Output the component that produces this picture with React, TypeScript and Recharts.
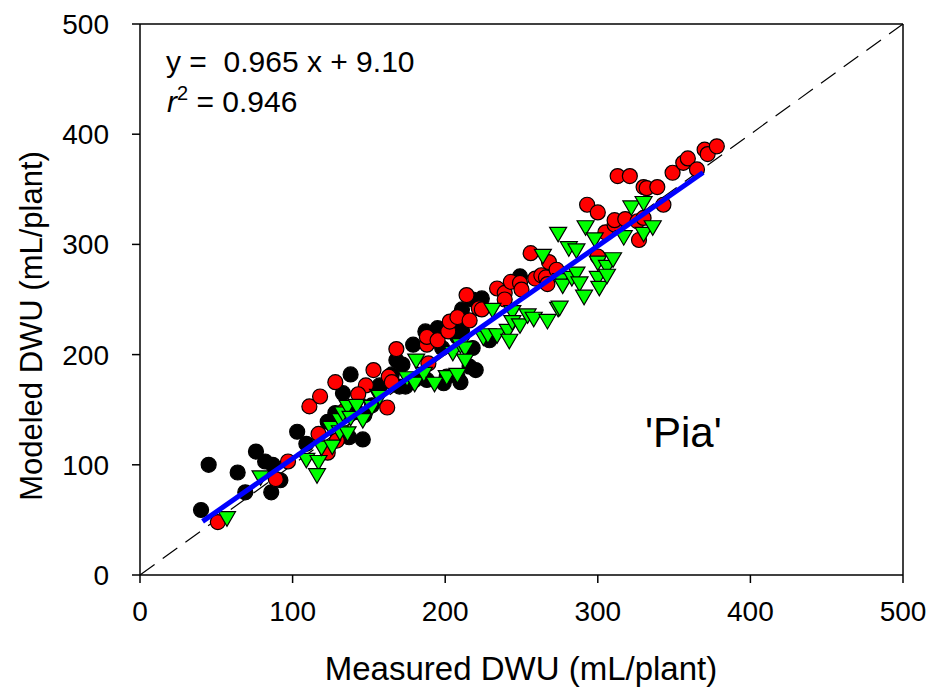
import React from 'react';
import { ScatterChart, Scatter, XAxis, YAxis, ReferenceLine } from 'recharts';

const axisTicks = [0, 100, 200, 300, 400, 500];

const blackPts = [
  [40,59],[45,100],[64,93],[69,75],[76,112],[82,103],[87,100],[86,75],[92,86],[103,130],[109,119],[123,139],[128,147],[133,165],[138,182],[137,125],[146,123],[142,148],[147,145],[152,154],[157,172],[165,182],[168,195],[170,171],[172,191],[174,171],[179,209],[180,177],[187,221],[188,177],[191,216],[195,224],[198,206],[199,174],[201,180],[203,229],[208,180],[208,216],[210,175],[211,241],[211,222],[216,189],[218,206],[218,250],[220,186],[224,251],[229,213],[249,271]
];

const redPts = [
  [51,48],[89,87],[97,103],[111,153],[118,162],[128,175],[123,111],[129,122],[117,128],[153,186],[148,172],[143,164],[134,149],[162,152],[163,180],[168,205],[165,175],[188,209],[188,216],[189,192],[195,213],[202,221],[203,230],[208,234],[214,254],[216,231],[222,242],[224,241],[234,260],[239,256],[239,250],[243,266],[249,265],[250,259],[256,292],[259,269],[263,272],[266,270],[267,264],[268,284],[273,277],[293,336],[300,329],[300,289],[305,311],[311,318],[311,322],[313,362],[318,323],[321,362],[326,321],[327,304],[330,324],[330,352],[332,351],[339,352],[343,336],[349,365],[356,374],[359,378],[365,368],[370,386],[372,382],[378,389]
];

const greenPts = [
  [57,52],[79,89],[109,105],[117,103],[116,91],[119,116],[125,134],[126,117],[131,141],[131,130],[133,147],[136,153],[136,129],[138,143],[142,154],[146,141],[152,153],[156,163],[157,162],[175,179],[180,174],[181,195],[186,183],[193,174],[201,180],[205,202],[208,182],[210,209],[213,206],[213,195],[225,216],[228,218],[231,241],[234,218],[241,222],[242,213],[244,239],[244,230],[249,227],[254,236],[258,233],[264,290],[267,231],[274,242],[274,310],[275,243],[276,268],[277,263],[281,297],[283,270],[286,295],[286,274],[288,265],[291,253],[292,316],[298,305],[300,284],[300,270],[301,261],[306,280],[306,272],[310,287],[317,307],[322,334],[330,338],[330,310],[336,316]
];

const fitSlope = 0.965;
const fitIntercept = 9.1;
const fitRange = [41, 369];
const diagRange = [0, 500];

const toObj = (arr: number[][]) => arr.map(([x, y]) => ({ x, y }));
const blackData = toObj(blackPts);
const redData = toObj(redPts);
const greenData = toObj(greenPts);
const fitData = fitRange.map((x) => ({ x, y: fitSlope * x + fitIntercept }));
const diagData = diagRange.map((v) => ({ x: v, y: v }));

const FONT = '"Liberation Sans", Arial, sans-serif';

const Circle = (fill: string) => (props: any) => (
  <circle cx={props.cx} cy={props.cy} r={7.5} fill={fill} stroke="#000" strokeWidth={1.2} />
);

const Tri = (props: any) => {
  const { cx, cy } = props;
  const pts = `${cx - 8.5},${cy - 6} ${cx + 8.5},${cy - 6} ${cx},${cy + 8.5}`;
  return <polygon points={pts} fill="#00FF00" stroke="#000" strokeWidth={1.2} />;
};

const Empty = () => <g />;

export default function App() {
  const tickStyle = { fontFamily: FONT, fontSize: 28, fill: '#000' };
  return (
    <div style={{ position: 'absolute', left: 0, top: 0, width: 930, height: 694, overflow: 'hidden' }}>
      <ScatterChart width={930} height={694} margin={{ top: 24, right: 27, bottom: 10, left: 0 }}>
        <XAxis
          type="number"
          dataKey="x"
          domain={[0, 500]}
          ticks={axisTicks}
          allowDataOverflow
          height={109}
          tickSize={8}
          tickMargin={18}
          tick={tickStyle}
          axisLine={{ stroke: '#000', strokeWidth: 1.5 }}
          tickLine={{ stroke: '#000', strokeWidth: 1.5 }}
        />
        <YAxis
          type="number"
          dataKey="y"
          domain={[0, 500]}
          ticks={axisTicks}
          allowDataOverflow
          width={140}
          tickSize={8}
          tickMargin={23}
          tick={tickStyle}
          axisLine={{ stroke: '#000', strokeWidth: 1.5 }}
          tickLine={{ stroke: '#000', strokeWidth: 1.5 }}
        />
        <ReferenceLine y={500} stroke="#000" strokeWidth={1.5} />
        <ReferenceLine x={500} stroke="#000" strokeWidth={1.5} />
        <Scatter
          data={diagData}
          shape={Empty}
          line={{ stroke: '#000', strokeWidth: 1.2, strokeDasharray: '18 10' }}
          isAnimationActive={false}
        />
        <Scatter data={blackData} shape={Circle('#000000')} isAnimationActive={false} />
        <Scatter data={redData} shape={Circle('#FF0000')} isAnimationActive={false} />
        <Scatter data={greenData} shape={Tri} isAnimationActive={false} />
        <Scatter
          data={fitData}
          shape={Empty}
          line={{ stroke: '#0000FF', strokeWidth: 5 }}
          isAnimationActive={false}
        />
      </ScatterChart>
      <svg
        width={930}
        height={694}
        style={{ position: 'absolute', left: 0, top: 0, pointerEvents: 'none' }}
        fontFamily={FONT}
      >
        <text x={166} y={72} fontSize={30} fill="#000" style={{ whiteSpace: 'pre' }}>
          {'y =  0.965 x + 9.10'}
        </text>
        <text x={167} y={112} fontSize={30} fill="#000">
          <tspan fontStyle="italic">r</tspan>
          <tspan fontSize={20} dy={-12}>2</tspan>
          <tspan dy={12}> = 0.946</tspan>
        </text>
        <text x={645} y={447} fontSize={42} fill="#000">'Pia'</text>
        <text x={521} y={680} fontSize={33} fill="#000" textAnchor="middle">
          Measured DWU (mL/plant)
        </text>
        <text
          x={42}
          y={326}
          fontSize={31}
          fill="#000"
          textAnchor="middle"
          transform="rotate(-90, 42, 326)"
        >
          Modeled DWU (mL/plant)
        </text>
      </svg>
    </div>
  );
}
